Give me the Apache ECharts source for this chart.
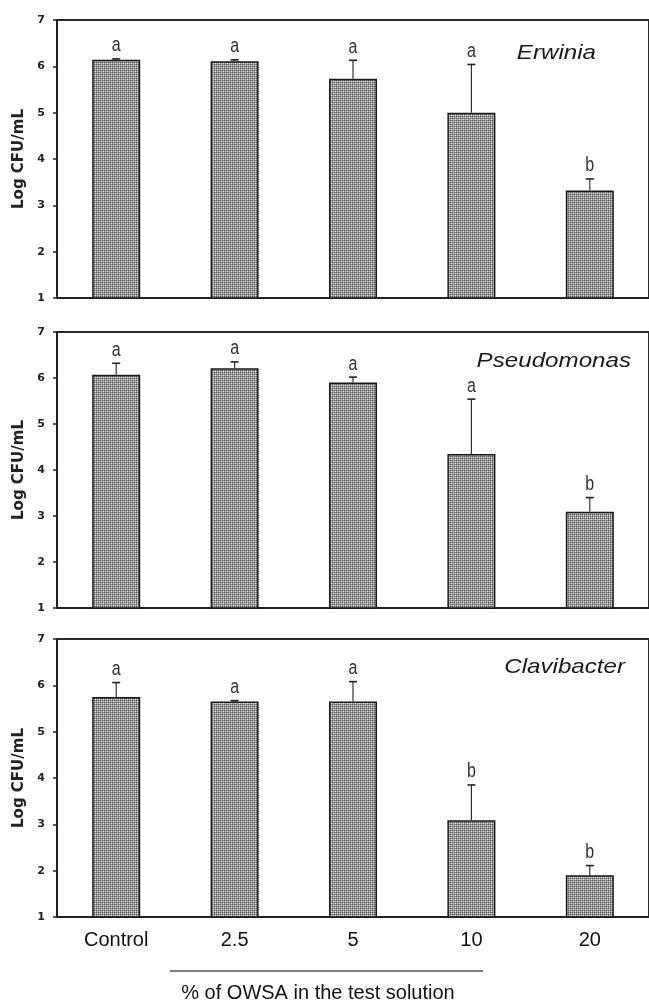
<!DOCTYPE html>
<html>
<head>
<meta charset="utf-8">
<script src="https://cdn.jsdelivr.net/npm/echarts@6/dist/echarts.min.js"></script>
<style>html,body{margin:0;padding:0;background:#fff}#c{width:649px;height:1006px}</style>
</head>
<body>
<div id="c"></div>
<script>
// ---- data ----
const categories = ['Control', '2.5', '5', '10', '20'];
const yTicks = [1, 2, 3, 4, 5, 6, 7];
const species = ['Erwinia', 'Pseudomonas', 'Clavibacter'];
const erwiniaMean = [6.14, 6.11, 5.73, 5.00, 3.32];
const erwiniaErr  = [0.02, 0.03, 0.40, 1.04, 0.25];
const erwiniaLet  = ['a', 'a', 'a', 'a', 'b'];
const pseudoMean  = [6.07, 6.21, 5.90, 4.35, 3.09];
const pseudoErr   = [0.25, 0.14, 0.12, 1.19, 0.31];
const pseudoLet   = ['a', 'a', 'a', 'a', 'b'];
const clavMean    = [5.75, 5.65, 5.65, 3.09, 1.90];
const clavErr     = [0.31, 0.02, 0.43, 0.76, 0.21];
const clavLet     = ['a', 'a', 'a', 'b', 'b'];
const yName = 'Log CFU/mL';
const xTitle = '% of OWSA in the test solution';

// ---- pattern fill for bars (dotted screen) ----
const pc = document.createElement('canvas');
pc.width = 4; pc.height = 4;
const pctx = pc.getContext('2d');
pctx.fillStyle = '#9a9a9a'; pctx.fillRect(0, 0, 4, 4);
pctx.fillStyle = '#555555';
pctx.fillRect(0, 0, 1, 1); pctx.fillRect(2, 0, 1, 1); pctx.fillRect(0, 2, 1, 1); pctx.fillRect(2, 2, 1, 1);
pctx.fillStyle = '#e4e4e4';
pctx.fillRect(1, 1, 1, 1); pctx.fillRect(3, 3, 1, 1);
pctx.fillStyle = '#c4c4c4';
pctx.fillRect(3, 1, 1, 1); pctx.fillRect(1, 3, 1, 1);

const panels = [
  {mean: erwiniaMean, err: erwiniaErr, let: erwiniaLet, top: 20, height: 278, name: species[0], nx: 596, ny: 53},
  {mean: pseudoMean, err: pseudoErr, let: pseudoLet, top: 332, height: 276, name: species[1], nx: 631, ny: 361},
  {mean: clavMean, err: clavErr, let: clavLet, top: 639, height: 278, name: species[2], nx: 625, ny: 667}
];

const grid = [], xAxis = [], yAxis = [], series = [], graphic = [];
panels.forEach((p, gi) => {
  const last = gi === panels.length - 1;
  grid.push({left: 57, width: 595, top: p.top, height: p.height, show: true,
    borderColor: '#2a2a2a', borderWidth: 2, backgroundColor: 'transparent'});
  xAxis.push({type: 'category', gridIndex: gi, data: categories, boundaryGap: true,
    axisLine: {lineStyle: {color: '#222', width: 2}},
    axisTick: {show: false},
    axisLabel: {show: last, margin: 13, fontSize: 20, color: '#111',
      fontFamily: '"Liberation Sans", Arial, sans-serif'}});
  yAxis.push({type: 'value', gridIndex: gi, min: yTicks[0], max: yTicks[yTicks.length - 1], interval: 1,
    splitLine: {show: false},
    axisLine: {show: true, lineStyle: {color: '#222', width: 2}},
    axisTick: {show: true, length: 4, lineStyle: {color: '#222', width: 1.5}},
    axisLabel: {margin: 12, fontSize: 11, fontWeight: 'bold', color: '#222',
      fontFamily: '"DejaVu Sans", sans-serif'},
    name: yName, nameLocation: 'middle', nameGap: 30, nameRotate: 90,
    nameTextStyle: {fontSize: 15, fontWeight: 'bold', color: '#222', fontFamily: '"DejaVu Sans", sans-serif'}});
  series.push({type: 'bar', xAxisIndex: gi, yAxisIndex: gi, data: p.mean, barWidth: 48, clip: true,
    itemStyle: {color: {image: pc, repeat: 'repeat'}, borderColor: '#1a1a1a', borderWidth: 1.5}});
  const lets = p.let;
  series.push({type: 'custom', xAxisIndex: gi, yAxisIndex: gi, z: 5,
    data: p.mean.map((m, i) => [i, m, p.err[i]]),
    encode: {x: 0, y: 1},
    renderItem: function (params, api) {
      const x = api.value(0), m = api.value(1), e = api.value(2);
      const p0 = api.coord([x, m]);
      const p1 = api.coord([x, m + e]);
      const half = 4;
      return {type: 'group', children: [
        {type: 'line', shape: {x1: p0[0], y1: p0[1], x2: p1[0], y2: p1[1]}, style: {stroke: '#333', lineWidth: 1.2}},
        {type: 'line', shape: {x1: p1[0] - half, y1: p1[1], x2: p1[0] + half, y2: p1[1]}, style: {stroke: '#222', lineWidth: 1.6}},
        {type: 'text', x: p1[0], y: p1[1] - 3, scaleY: 1.25, style: {text: lets[params.dataIndex],
          font: '16px "Liberation Sans", Arial, sans-serif', fill: '#333', textAlign: 'center', textVerticalAlign: 'bottom'}}
      ]};
    }});
  graphic.push({type: 'text', x: p.nx, y: p.ny, scaleX: 1.15, z: 10,
    style: {text: p.name, font: 'italic 21px "Liberation Sans", Arial, sans-serif', fill: '#1a1a1a',
      textAlign: 'right', textVerticalAlign: 'middle'}});
});

graphic.push({type: 'line', shape: {x1: 170, y1: 971, x2: 483, y2: 971}, style: {stroke: '#555', lineWidth: 1.5}});
graphic.push({type: 'text', x: 318, y: 993, style: {text: xTitle, font: '20px "Liberation Sans", Arial, sans-serif',
  fill: '#111', textAlign: 'center', textVerticalAlign: 'middle'}});

const chart = echarts.init(document.getElementById('c'), null, {renderer: 'canvas'});
chart.setOption({animation: false, backgroundColor: '#fff', grid, xAxis, yAxis, series, graphic});
</script>
</body>
</html>
